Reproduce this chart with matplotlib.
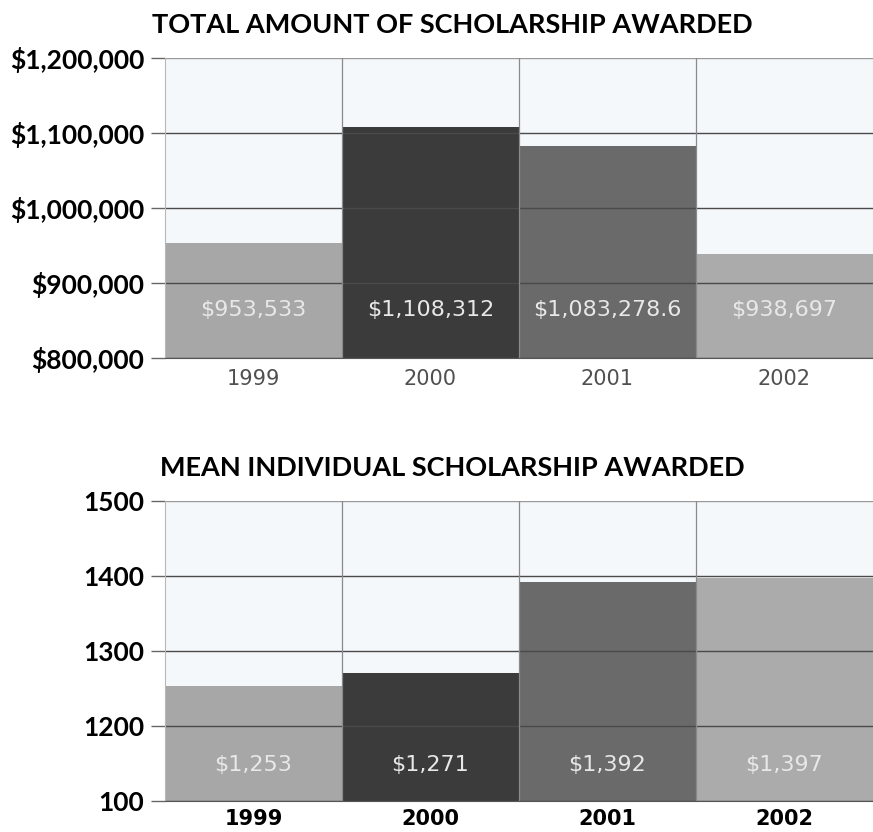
import matplotlib
matplotlib.use("Agg")
import matplotlib.pyplot as plt
from matplotlib.ticker import FixedLocator, FixedFormatter

years = ["1999", "2000", "2001", "2002"]
total_values = [953533, 1108312, 1083278.6, 938697]
total_labels = ["$953,533", "$1,108,312", "$1,083,278.6", "$938,697"]
total_ticks = [800000, 900000, 1000000, 1100000, 1200000]
total_ticklabels = ["$800,000", "$900,000", "$1,000,000", "$1,100,000", "$1,200,000"]

mean_values = [1253, 1271, 1392, 1397]
mean_labels = ["$1,253", "$1,271", "$1,392", "$1,397"]
mean_ticks = [1100, 1200, 1300, 1400, 1500]
mean_ticklabels = ["100", "1200", "1300", "1400", "1500"]

bar_colors = ["#a7a7a7", "#3b3b3b", "#6a6a6a", "#ababab"]

fig = plt.figure(figsize=(8.73, 8.32), dpi=100)
fig.patch.set_facecolor("white")

def panel(rect, values, labels, ticks, ticklabels, title, ylim, label_y, bold_x):
    ax = fig.add_axes(rect)
    ax.set_facecolor("#f5f8fa")
    x = range(len(years))
    ax.bar(x, [v - ylim[0] for v in values], bottom=ylim[0], width=1.0,
           color=bar_colors, edgecolor="none", zorder=1)
    ax.set_xlim(-0.5, len(years) - 0.5)
    ax.set_ylim(*ylim)
    ax.yaxis.set_major_locator(FixedLocator(ticks))
    ax.yaxis.set_major_formatter(FixedFormatter(ticklabels))
    ax.set_xticks(list(x))
    ax.set_xticklabels(years)
    for t in ticks:
        ax.axhline(t, color="#4a4a4a" if t != ticks[-1] else "#9a9a9a", lw=1.0, zorder=2)
    for b in [0.5, 1.5, 2.5]:
        ax.axvline(b, color="#8a8a8a", lw=0.9, zorder=2)
    for s in ["top", "right"]:
        ax.spines[s].set_visible(False)
    ax.spines["left"].set_color("#b8b8b8")
    ax.spines["bottom"].set_color("#555555")
    ax.tick_params(axis="y", length=10, width=1, color="#666666", pad=5,
                   labelsize=19)
    for lab in ax.get_yticklabels():
        lab.set_fontfamily("Lato")
        lab.set_fontweight("bold")
    if bold_x:
        ax.tick_params(axis="x", length=0, pad=6, labelsize=15, labelcolor="black")
        for lab in ax.get_xticklabels():
            lab.set_fontweight("bold")
    else:
        ax.tick_params(axis="x", length=0, pad=8, labelsize=15, labelcolor="#505050")
    for i, lab in enumerate(labels):
        ax.text(i, label_y, lab, ha="center", va="center", color="#e8e8e8",
                fontsize=16, zorder=3)
    fig.text(0.518, rect[1] + rect[3] + 0.040, title, ha="center", va="center",
             fontsize=19.5, fontfamily="Lato", fontweight="bold")
    return ax

panel([0.189, 0.570, 0.811, 0.360], total_values, total_labels, total_ticks,
      total_ticklabels, "TOTAL AMOUNT OF SCHOLARSHIP AWARDED",
      (800000, 1200000), 864000, False)
panel([0.189, 0.0373, 0.811, 0.3606], mean_values, mean_labels, mean_ticks,
      mean_ticklabels, "MEAN INDIVIDUAL SCHOLARSHIP AWARDED",
      (1100, 1500), 1148, True)

fig.savefig("out.png", dpi=100)
